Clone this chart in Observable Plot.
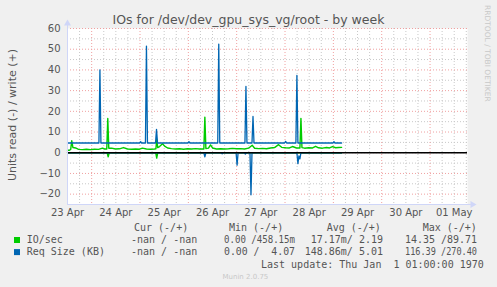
<!DOCTYPE html>
<html><head><meta charset="utf-8">
<script src="https://cdn.jsdelivr.net/npm/d3@7"></script>
<script src="https://cdn.jsdelivr.net/npm/@observablehq/plot@0.6"></script>
<style>
html,body{margin:0;padding:0;background:#f0f0f0;}
#wrap{position:relative;width:497px;height:287px;background:#f0f0f0;overflow:hidden;}
#chart{position:absolute;left:0;top:0;}
#overlay{position:absolute;left:0;top:0;}
</style></head><body>
<div id="wrap"><div id="chart"></div><svg id="overlay" width="497" height="287"></svg></div>
<script>
// ---------- text ----------
const title = "IOs for /dev/dev_gpu_sys_vg/root - by week";
const yLabel = "Units read (-) / write (+)";
const watermark = "RRDTOOL / TOBI OETIKER";
const footer = "Munin 2.0.75";
const lastUpdate = "Last update: Thu Jan  1 01:00:00 1970";

// ---------- scales / ticks ----------
const startTime = "2024-04-23T00:00Z";
const endTime = "2024-05-01T06:36Z";
const yTicks = [-20, -10, 0, 10, 20, 30, 40, 50, 60];
const yMinorGrid = [-15, -5, 5, 15, 25, 35, 45, 55];
const dayTicks = ["2024-04-23","2024-04-24","2024-04-25","2024-04-26","2024-04-27","2024-04-28","2024-04-29","2024-04-30","2024-05-01"];

// ---------- series (hours since 23 Apr 00:00, values) ----------
// IO/sec, write (+)
const ioWriteHours = [0,1.0,1.6,2.1,2.7,4.0,5.5,7.4,9.4,11.4,13.4,15.4,17.4,18.4,19.5,20.0,20.5,21.9,23.8,25.8,27.8,29.8,31.8,33.8,35.8,37.2,39.2,41.2,43.2,43.9,44.3,44.8,45.7,47.2,48.2,49.7,51.6,53.6,55.6,57.6,59.6,61.6,63.6,65.6,67.7,68.2,68.7,70.0,71.0,72.0,74.0,76.0,78.0,80.0,81.9,83.9,85.9,87.9,89.9,91.7,92.9,94.9,96.8,98.8,100.8,102.8,104.8,106.3,108.3,110.2,111.7,113.7,115.4,115.9,116.4,117.7,119.7,121.7,123.2,124.6,126.6,128.6,130.1,131.6,133.1,134.6,136.1];
const ioWriteValues = [1.2,1.2,1.6,5.8,2.5,2.3,1.6,1.5,1.7,1.5,1.7,1.6,2.2,1.8,1.8,16.5,2.2,2.2,1.8,1.9,2.5,1.8,1.7,1.8,1.7,2.2,1.8,1.7,1.8,1.9,6.5,2.5,3.0,4.3,3.2,2.3,2.0,1.8,1.9,1.7,1.9,1.8,2.0,1.8,1.8,17.2,2.0,2.2,3.8,2.3,1.8,1.9,1.8,1.9,2.1,1.9,2.0,1.8,2.2,3.6,2.2,2.0,2.1,1.9,2.3,2.5,3.9,2.6,2.4,2.3,3.0,2.3,2.3,16.6,2.5,2.2,2.4,2.3,3.1,2.4,2.2,2.5,2.3,3.0,2.4,2.5,2.6];
// IO/sec, read (-)
const ioReadHours = [0,19.7,20.2,20.7,43.8,44.3,44.8,136.1];
const ioReadValues = [0,0,-2,0,0,-2.6,0,0];
// Req Size (KB), write (+)
const reqWriteHours = [0,15.6,16.1,16.6,35.8,36.3,36.8,38.7,39.2,39.7,43.7,44.2,44.7,59.8,60.3,60.8,74.6,75.1,75.6,88.1,88.6,89.1,91.6,92.1,92.6,107.8,108.3,108.8,113.4,113.9,114.4,131.8,132.3,132.8,136.1];
const reqWriteValues = [4.7,4.7,40,4.7,4.7,5.3,4.7,4.7,51.5,4.7,4.7,11.3,4.7,4.7,5.3,4.7,4.7,52.5,4.7,4.7,32,4.7,4.7,17.5,4.7,4.7,5.5,4.7,4.7,37.4,4.7,4.7,5.3,4.7,4.7];
// Req Size (KB), read (-)
const reqReadHours = [0,67.7,68.2,68.7,76.3,76.8,77.3,83.7,84.2,84.7,87.8,88.3,88.8,90.6,91.1,91.6,113.9,114.4,114.9,115.4,115.9,136.1];
const reqReadValues = [0,0,-2,0,0,-0.5,0,0,-6,0,0,-0.6,0,0,-20.3,0,0,-5.3,-1.5,-3,0,0];

// ---------- legend ----------
const legendNames = ["IO/sec", "Req Size (KB)"];
const legendHeaders = ["Cur (-/+)", "Min (-/+)", "Avg (-/+)", "Max (-/+)"];
const curText = ["-nan / -nan", "-nan / -nan"];
const minText = ["0.00 /458.15m", "0.00 /  4.07"];
const avgText = ["17.17m/ 2.19", "148.86m/ 5.01"];
const maxText = ["14.35 /89.71", "116.39 /270.40"];

// ---------- build ----------
const GREEN = "#00cc00", BLUE = "#0066b3";
const AXIS = "#cfd6f8", GRID = "#c8c8c8", MGRID = "#f0a0a0";
const t0 = new Date(startTime);
const toDate = h => new Date(+t0 + h * 3600e3);
const mk = (hs, vs) => hs.map((h, i) => ({t: toDate(h), v: vs[i]}));
const ioW = mk(ioWriteHours, ioWriteValues);
const ioR = mk(ioReadHours, ioReadValues);
const rqW = mk(reqWriteHours, reqWriteValues);
const rqR = mk(reqReadHours, reqReadValues);

const xDomain = [new Date(startTime), new Date(endTime)];
const sixHours = d3.utcHour.every(6).range(xDomain[0], xDomain[1]);
const noonLines = sixHours.filter(d => d.getUTCHours() === 12);
const minorV = sixHours.filter(d => d.getUTCHours() !== 12);
const days = dayTicks.map(d => new Date(d + "T00:00Z"));

const chart = Plot.plot({
  width: 497, height: 221,
  marginLeft: 67, marginRight: 30, marginTop: 28, marginBottom: 17,
  style: {background: "transparent", fontFamily: "DejaVu Sans", fontSize: "10px", color: "#555", overflow: "visible", maxWidth: "none"},
  x: {type: "utc", domain: xDomain},
  y: {domain: [-25, 60]},
  marks: [
    Plot.frame({fill: "white", stroke: null}),
    Plot.ruleX(minorV, {stroke: GRID, strokeDasharray: "1,2"}),
    Plot.ruleY(yMinorGrid, {stroke: GRID, strokeDasharray: "1,2"}),
    Plot.ruleX(noonLines, {stroke: MGRID, strokeDasharray: "1,2"}),
    Plot.ruleY(yTicks, {stroke: MGRID, strokeDasharray: "1,2"}),
    Plot.lineY(ioR, {x: "t", y: "v", stroke: GREEN, strokeWidth: 1.4}),
    Plot.lineY(ioW, {x: "t", y: "v", stroke: GREEN, strokeWidth: 1.4}),
    Plot.lineY(rqR, {x: "t", y: "v", stroke: BLUE, strokeWidth: 1.3}),
    Plot.lineY(rqW, {x: "t", y: "v", stroke: BLUE, strokeWidth: 1.3}),
    Plot.ruleY([0], {stroke: "black", strokeWidth: 1.4}),
    Plot.ruleX([xDomain[0]], {stroke: AXIS, insetTop: -5}),
    Plot.ruleY([-25], {stroke: AXIS, insetRight: -5}),
    Plot.dot([xDomain[0]], {x: d => d, y: () => 60, symbol: "triangle", r: 2.6, fill: AXIS, stroke: null, dy: -5}),
    Plot.dot([xDomain[1]], {x: d => d, y: () => -25, symbol: "triangle", r: 2.6, fill: AXIS, stroke: null, dx: 5, rotate: 90}),
    Plot.axisY({ticks: yTicks, tickSize: 0, tickPadding: 7, label: null, fill: "#555"}),
    Plot.axisX({ticks: days, tickFormat: d3.utcFormat("%d %b"), tickSize: 0, tickPadding: 4, label: null, fill: "#555"})
  ]
});
document.getElementById("chart").appendChild(chart);

// ---------- overlay texts ----------
const ov = d3.select("#overlay");
const SANS = "DejaVu Sans", MONO = "DejaVu Sans Mono", TXT = "#555";
ov.append("text").attr("x", 248.5).attr("y", 23.5).attr("text-anchor", "middle")
  .attr("font-family", SANS).attr("font-size", 12.5).attr("fill", TXT).text(title);
ov.append("text").attr("transform", "translate(15.5,115) rotate(-90)").attr("text-anchor", "middle")
  .attr("font-family", SANS).attr("font-size", 11).attr("fill", TXT).text(yLabel);
ov.append("text").attr("transform", "translate(485,5) rotate(90)").attr("text-anchor", "start")
  .attr("font-family", SANS).attr("font-size", 7.5).attr("fill", "#c8c8c8").text(watermark);
ov.append("text").attr("x", 222.5).attr("y", 278.5)
  .attr("font-family", SANS).attr("font-size", 7).attr("fill", "#c8c8c8").text(footer);

const mono = (x, y, s, anchor, fitWidth) => {
  const t = ov.append("text").attr("x", x).attr("y", y)
    .attr("text-anchor", anchor || "start").attr("font-family", MONO).attr("font-size", 10)
    .attr("fill", TXT).style("white-space", "pre").text(s);
  if (fitWidth && s.length * 6.02 > fitWidth) t.attr("textLength", fitWidth).attr("lengthAdjust", "spacingAndGlyphs");
  return t;
};

const headerX = [134, 229, 326.7, 422.7];
legendHeaders.forEach((h, i) => mono(headerX[i], 231.3, h));
const rowY = [243.2, 255.3];
const sw = [GREEN, BLUE];
legendNames.forEach((n, i) => {
  ov.append("rect").attr("x", 14).attr("y", rowY[i] - 6.2).attr("width", 6).attr("height", 6).attr("fill", sw[i]);
  mono(26.7, rowY[i], n);
  mono(131, rowY[i], curText[i]);
  mono(224, rowY[i], minText[i], "start", 71);
  mono(383, rowY[i], avgText[i], "end");
  mono(405, rowY[i], maxText[i], "start", 72);
});
mono(261, 267.6, lastUpdate);
</script>
</body></html>
